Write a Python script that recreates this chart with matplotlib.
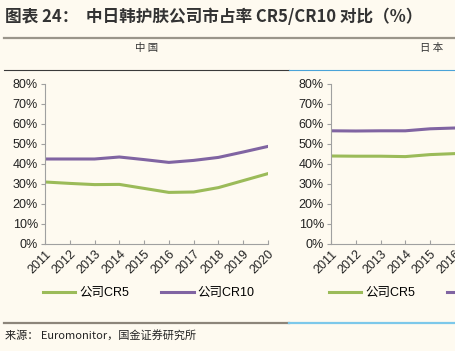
import matplotlib.pyplot as plt
from matplotlib.lines import Line2D

plt.rcParams['font.family'] = ['Liberation Sans', 'Noto Sans CJK SC', 'DejaVu Sans']

# === dados ===
anos = ['2011', '2012', '2013', '2014', '2015', '2016', '2017', '2018', '2019', '2020']
china_cr5 = [31.0, 30.3, 29.7, 29.8, 27.8, 25.8, 26.0, 28.2, 31.7, 35.2]
china_cr10 = [42.5, 42.5, 42.5, 43.5, 42.2, 40.8, 41.8, 43.3, 46.0, 48.8]
japao_cr5 = [44.0, 43.9, 43.9, 43.7, 44.7, 45.2]
japao_cr10 = [56.6, 56.5, 56.6, 56.6, 57.6, 58.0]

titulo = '图表 24：  中日韩护肤公司市占率 CR5/CR10 对比（%）'
fonte = '来源： Euromonitor，国金证券研究所'

W, H = 455, 351
BG = '#FEFAF0'
VERDE = '#9BBB59'
ROXO = '#8064A2'
CJK = ['Noto Sans CJK SC', 'DejaVu Sans']
MISTO = ['Liberation Sans', 'Noto Sans CJK SC']

fig = plt.figure(figsize=(W / 100, H / 100), dpi=100, facecolor=BG)


def px(x, y):
    return x / W, 1 - y / H


def hline(y, x0, x1, cor, lw):
    a, b = px(x0, y)
    c, _ = px(x1, y)
    fig.add_artist(Line2D([a, c], [b, b], color=cor, lw=lw, transform=fig.transFigure))


# === cabeçalho e linhas ===
fig.text(*px(5, 17), titulo, fontsize=12, fontweight='bold', style='italic',
         color='#333333', va='center', ha='left', family=['Noto Sans CJK SC', 'Liberation Sans'])
hline(38, 4, 455, '#9A958A', 1.6)
fig.text(*px(147, 48), '中 国', fontsize=7.5, color='#333333', va='center', ha='center', family=CJK)
fig.text(*px(432, 48), '日 本', fontsize=7.5, color='#333333', va='center', ha='center', family=CJK)
hline(69.5, 4, 289, '#3A3A3A', 0.8)
hline(69.5, 289, 455, '#4AA3D8', 0.8)
hline(322.5, 4, 289, '#8C857A', 1.6)
hline(322.5, 289, 455, '#7CC8EA', 1.6)
fig.text(*px(5, 335), fonte, fontsize=8, color='#222222', va='center', ha='left',
         family=['Noto Sans CJK SC', 'Liberation Sans'])


def painel(x0, cr5, cr10, n_rotulos):
    ax = fig.add_axes([x0 / W, (H - 244) / H, 223 / W, 160 / H])
    ax.set_facecolor(BG)
    ax.plot(anos[:len(cr5)], cr5, color=VERDE, lw=2.2, label='公司CR5')
    ax.plot(anos[:len(cr10)], cr10, color=ROXO, lw=2.2, label='公司CR10')
    ax.set_xlim(0, len(anos) - 1)
    ax.set_xticks(range(len(anos)))
    rotulos = [a if i < n_rotulos else '' for i, a in enumerate(anos)]
    ax.set_xticklabels(rotulos, rotation=45, ha='right', rotation_mode='anchor')
    ax.set_ylim(0, 80)
    ax.set_yticks(range(0, 81, 10))
    ax.set_yticklabels([f'{v}%' for v in range(0, 81, 10)])
    for s in ['top', 'right']:
        ax.spines[s].set_visible(False)
    for s in ['left', 'bottom']:
        ax.spines[s].set_color('#A0A0A0')
        ax.spines[s].set_linewidth(0.8)
    ax.tick_params(axis='y', direction='out', length=3, color='#A0A0A0', labelsize=9, pad=2,
                   labelcolor='#222222')
    ax.tick_params(axis='x', direction='in', length=3, color='#A0A0A0', labelsize=9, pad=3,
                   labelcolor='#222222')
    ax.legend(loc='upper left', bbox_to_anchor=(-0.01, -0.27), ncol=2, frameon=False,
              handlelength=2.6, handletextpad=0.3, columnspacing=2.6,
              borderaxespad=0, borderpad=0, prop={'family': MISTO, 'size': 9})
    return ax


painel(45, china_cr5, china_cr10, len(anos))
painel(331, japao_cr5, japao_cr10, len(japao_cr5))

fig.savefig('out.png', dpi=100, facecolor=BG)
